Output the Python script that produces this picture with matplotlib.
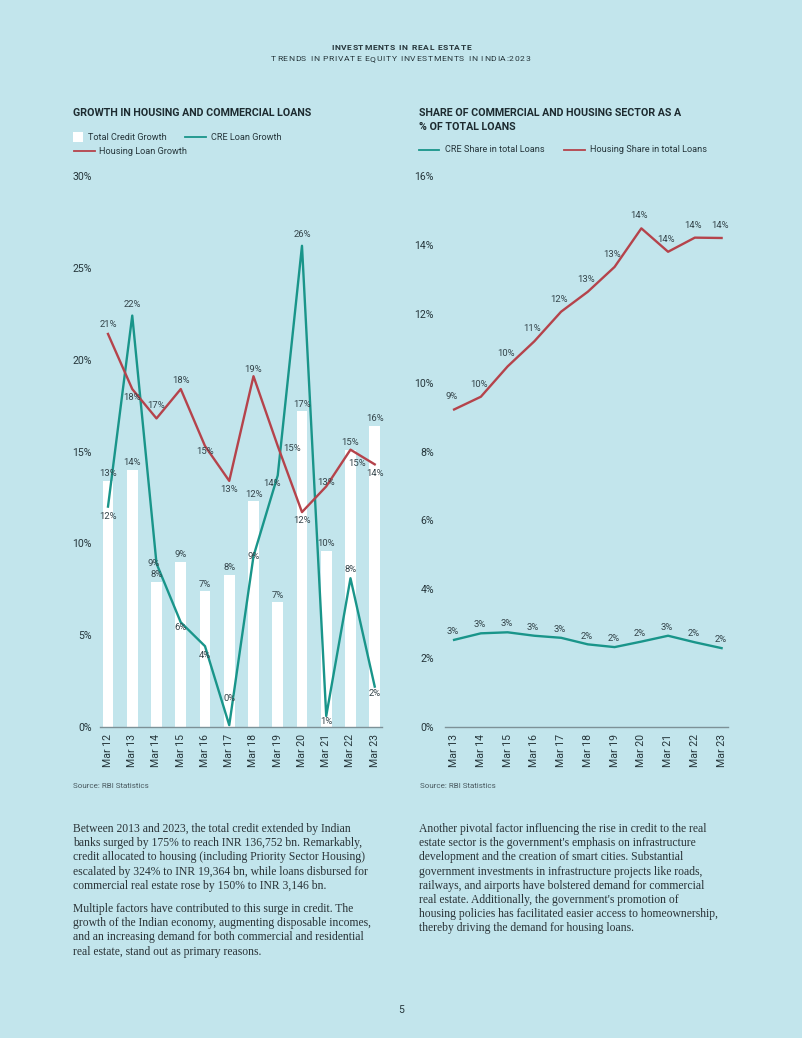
import matplotlib
matplotlib.use("Agg")
import matplotlib.pyplot as plt
from matplotlib.lines import Line2D
from matplotlib.patches import Rectangle
from matplotlib.font_manager import FontProperties, findfont
from matplotlib.ft2font import FT2Font

# ---- data ----
years_left = ["Mar 12", "Mar 13", "Mar 14", "Mar 15", "Mar 16", "Mar 17",
              "Mar 18", "Mar 19", "Mar 20", "Mar 21", "Mar 22", "Mar 23"]
total_credit = [13.4, 14.0, 7.9, 9.0, 7.4, 8.3, 12.3, 6.8, 17.2, 9.6, 15.1, 16.4]
cre_growth = [12.0, 22.4, 8.9, 5.7, 4.4, 0.1, 9.3, 13.7, 26.2, 0.6, 8.1, 2.2]
housing_growth = [21.4, 18.4, 16.8, 18.4, 15.3, 13.4, 19.1, 15.3, 11.7, 13.1, 15.1, 14.3]

years_right = ["Mar 13", "Mar 14", "Mar 15", "Mar 16", "Mar 17", "Mar 18",
               "Mar 19", "Mar 20", "Mar 21", "Mar 22", "Mar 23"]
cre_share = [2.53, 2.72, 2.75, 2.65, 2.59, 2.40, 2.32, 2.48, 2.65, 2.46, 2.29]
housing_share = [9.22, 9.59, 10.47, 11.2, 12.06, 12.64, 13.36, 14.48, 13.8, 14.21, 14.2]

# label offsets (points) for the left chart lines
cre_off = [(0, -7), (0, 8), (-2, 0), (0, -4), (0, -7), (0, 19),
           (0, 0), (-4, -6), (0, 8), (0, -4), (0, 6), (0, -5)]
hou_off = [(0, 6.5), (0, -6), (0, 9), (0, 6.5), (0, -4), (0, -6.5),
           (0, 5), (10, -2), (0, -6), (0, 3), (5, -10), (0, -6.5)]

bg = "#c2e5ec"
teal = "#19958a"
red = "#b5434b"
txt = "#26363b"
lbl = "#34444a"
axis_col = "#7d9197"

plt.rcParams["font.family"] = ["Roboto", "DejaVu Sans"]

fig = plt.figure(figsize=(8.02, 10.38), dpi=100, facecolor=bg)
W, H = 802, 1038


def fx(px):
    return px / W


def fy(py):
    return 1 - py / H


def pct(v):
    return f"{v:.0f}%"


def tracked_text(s, x0, x1, y, size, weight="normal", color=txt):
    # spread the characters of s between pixel x0 and x1 (letter-spaced caps)
    font = FT2Font(findfont(FontProperties(family="Roboto", weight=weight)),
                   hinting_factor=1)
    font.set_size(size, 100)
    adv = [font.load_char(ord(c)).linearHoriAdvance / 65536 for c in s]
    track = (x1 - x0 - sum(adv)) / (len(s) - 1)
    x = x0
    for c, a in zip(s, adv):
        if c != " ":
            fig.text(fx(x), fy(y), c, ha="left", va="center", fontsize=size,
                     fontweight=weight, color=color)
        x += a + track


def style_axis(ax, ymax, step, pad):
    ax.set_facecolor(bg)
    for s in ["top", "right", "left"]:
        ax.spines[s].set_visible(False)
    ax.spines["bottom"].set_color(axis_col)
    ax.spines["bottom"].set_linewidth(1)
    ax.set_ylim(0, ymax)
    ax.set_yticks(range(0, ymax + 1, step))
    ax.set_yticklabels([f"{t}%" for t in range(0, ymax + 1, step)])
    ax.tick_params(axis="both", length=0, labelsize=7.6, colors=txt)
    ax.tick_params(axis="y", pad=pad)
    ax.tick_params(axis="x", pad=5)


# ---- left chart ----
ax1 = fig.add_axes([fx(100), fy(727), fx(282), 551 / H])
x1 = list(range(len(years_left)))
ax1.bar(x1, total_credit, width=0.44, color="white", zorder=1)
ax1.plot(x1, cre_growth, color=teal, lw=1.7, zorder=2)
ax1.plot(x1, housing_growth, color=red, lw=1.7, zorder=3)
style_axis(ax1, 30, 5, 6)
ax1.set_xlim(-0.33, 11.3)
ax1.set_xticks(x1)
ax1.set_xticklabels(years_left, rotation=90)

for i, v in enumerate(total_credit):
    ax1.annotate(pct(v), (i, v), xytext=(0, 5), textcoords="offset points",
                 ha="center", va="center", fontsize=6.8, color=lbl, zorder=5)
for i, v in enumerate(cre_growth):
    ax1.annotate(pct(v), (i, v), xytext=cre_off[i], textcoords="offset points",
                 ha="center", va="center", fontsize=6.8, color=lbl, zorder=5)
for i, v in enumerate(housing_growth):
    ax1.annotate(pct(v), (i, v), xytext=hou_off[i], textcoords="offset points",
                 ha="center", va="center", fontsize=6.8, color=lbl, zorder=5)

# ---- right chart ----
ax2 = fig.add_axes([fx(445), fy(727), fx(283), 551 / H])
x2 = list(range(len(years_right)))
ax2.plot(x2, cre_share, color=teal, lw=1.7)
ax2.plot(x2, housing_share, color=red, lw=1.7)
style_axis(ax2, 16, 2, 8)
ax2.set_xlim(-0.34, 10.24)
ax2.set_xticks(x2)
ax2.set_xticklabels(years_right, rotation=90)

for i, v in enumerate(housing_share):
    ax2.annotate(pct(v), (i, v), xytext=(-1.5, 9), textcoords="offset points",
                 ha="center", va="center", fontsize=6.8, color=lbl)
for i, v in enumerate(cre_share):
    ax2.annotate(pct(v), (i, v), xytext=(-1, 6), textcoords="offset points",
                 ha="center", va="center", fontsize=6.8, color=lbl)

# ---- header ----
tracked_text("INVESTMENTS IN REAL ESTATE", 331, 471, 48, 6.1, weight="bold")
tracked_text("TRENDS IN PRIVATE EQUITY INVESTMENTS IN INDIA:2023", 271, 530, 59, 6.1)

# ---- titles ----
title_kw = dict(ha="left", va="center", fontsize=7.7, fontweight="bold", color="#1d2b30")
fig.text(fx(73), fy(113), "GROWTH IN HOUSING AND COMMERCIAL LOANS", **title_kw)
fig.text(fx(419), fy(113), "SHARE OF COMMERCIAL AND HOUSING SECTOR AS A", **title_kw)
fig.text(fx(419), fy(127), "% OF TOTAL LOANS", **title_kw)

# ---- legends (drawn by hand to match spacing) ----
leg_txt = dict(ha="left", va="center", fontsize=6.6, color=txt)
fig.add_artist(Rectangle((fx(73), fy(142)), fx(10), 10 / H, facecolor="white",
                         edgecolor="none", transform=fig.transFigure))
fig.text(fx(88), fy(137), "Total Credit Growth", **leg_txt)
fig.add_artist(Line2D([fx(185), fx(206)], [fy(137), fy(137)], color=teal, lw=1.3,
                      transform=fig.transFigure))
fig.text(fx(211), fy(137), "CRE Loan Growth", **leg_txt)
fig.add_artist(Line2D([fx(74), fx(95)], [fy(151), fy(151)], color=red, lw=1.3,
                      transform=fig.transFigure))
fig.text(fx(99), fy(151), "Housing Loan Growth", **leg_txt)

fig.add_artist(Line2D([fx(419), fx(439)], [fy(150), fy(150)], color=teal, lw=1.3,
                      transform=fig.transFigure))
fig.text(fx(445), fy(150), "CRE Share in total Loans", **leg_txt)
fig.add_artist(Line2D([fx(564), fx(585)], [fy(150), fy(150)], color=red, lw=1.3,
                      transform=fig.transFigure))
fig.text(fx(590), fy(150), "Housing Share in total Loans", **leg_txt)

# ---- sources ----
fig.text(fx(73), fy(786), "Source: RBI Statistics", ha="left", va="center",
         fontsize=5.8, color="#4a5a60")
fig.text(fx(420), fy(786), "Source: RBI Statistics", ha="left", va="center",
         fontsize=5.8, color="#4a5a60")

# ---- body text ----
left_lines = [
    "Between 2013 and 2023, the total credit extended by Indian",
    "banks surged by 175% to reach INR 136,752 bn. Remarkably,",
    "credit allocated to housing (including Priority Sector Housing)",
    "escalated by 324% to INR 19,364 bn, while loans disbursed for",
    "commercial real estate rose by 150% to INR 3,146 bn.",
    None,
    "Multiple factors have contributed to this surge in credit. The",
    "growth of the Indian economy, augmenting disposable incomes,",
    "and an increasing demand for both commercial and residential",
    "real estate, stand out as primary reasons.",
]
right_lines = [
    "Another pivotal factor influencing the rise in credit to the real",
    "estate sector is the government's emphasis on infrastructure",
    "development and the creation of smart cities. Substantial",
    "government investments in infrastructure projects like roads,",
    "railways, and airports have bolstered demand for commercial",
    "real estate. Additionally, the government's promotion of",
    "housing policies has facilitated easier access to homeownership,",
    "thereby driving the demand for housing loans.",
]


def draw_lines(lines, x0, y0):
    y = y0
    for ln in lines:
        if ln is None:
            y += 9
            continue
        fig.text(fx(x0), fy(y), ln, ha="left", va="center", fontsize=8.4,
                 family="Liberation Serif", color="#2a3337")
        y += 14.2


draw_lines(left_lines, 73, 829)
draw_lines(right_lines, 419, 829)

fig.text(0.5, fy(1010), "5", ha="center", va="center", fontsize=7.5, color=txt)

fig.savefig("out.png", dpi=100, facecolor=bg)
